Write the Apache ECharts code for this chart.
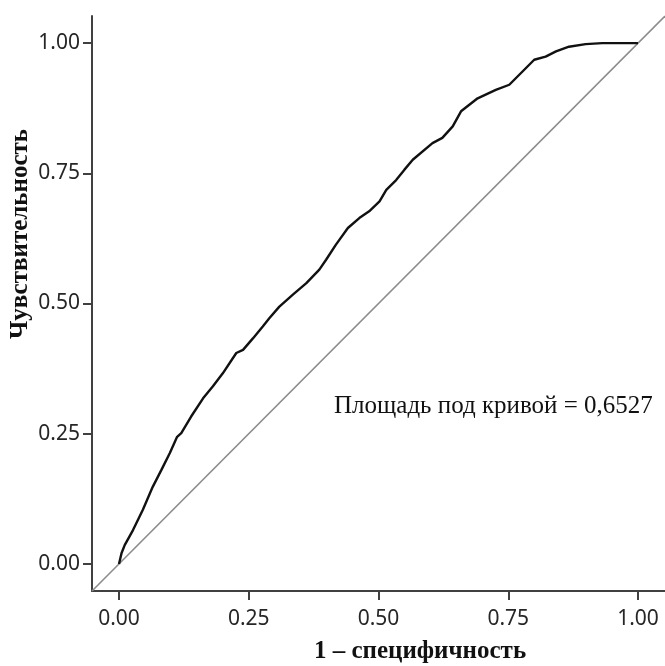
<!DOCTYPE html>
<html>
<head>
<meta charset="utf-8">
<script src="https://cdn.jsdelivr.net/npm/echarts@6/dist/echarts.min.js"></script>
<style>html,body{margin:0;padding:0;background:#fff}#c{width:665px;height:666px}</style>
</head>
<body>
<div id="c"></div>
<script>
// ROC curve: 1 - specificity (x) vs sensitivity (y)
const fpr = [0, 0.001, 0.005, 0.011, 0.027, 0.046, 0.065, 0.082, 0.098, 0.112, 0.120, 0.139, 0.162, 0.181, 0.200, 0.226, 0.239, 0.258, 0.277, 0.290, 0.309, 0.335, 0.361, 0.386, 0.399, 0.418, 0.441, 0.463, 0.482, 0.502, 0.515, 0.534, 0.550, 0.566, 0.604, 0.623, 0.643, 0.659, 0.691, 0.726, 0.752, 0.777, 0.800, 0.822, 0.842, 0.867, 0.899, 0.931, 1.0];
const tpr = [0, 0.001, 0.021, 0.036, 0.065, 0.104, 0.148, 0.181, 0.213, 0.244, 0.251, 0.283, 0.318, 0.341, 0.366, 0.405, 0.411, 0.433, 0.456, 0.472, 0.494, 0.517, 0.539, 0.565, 0.584, 0.613, 0.645, 0.664, 0.677, 0.696, 0.718, 0.737, 0.757, 0.776, 0.808, 0.818, 0.840, 0.869, 0.894, 0.910, 0.920, 0.945, 0.968, 0.974, 0.984, 0.993, 0.998, 1.0, 1.0];
const refLine = [-0.052, 1.052];
const tickValues = [0, 0.25, 0.5, 0.75, 1.0];
const axisMin = -0.052, axisMax = 1.052;
const xTitle = '1 – специфичность';
const yTitle = 'Чувствительность';
const aucText = 'Площадь под кривой = 0,6527';

const chart = echarts.init(document.getElementById('c'), null, {renderer: 'canvas'});
const axisCommon = {
  type: 'value', min: axisMin, max: axisMax,
  axisLine: {show: true, onZero: false, lineStyle: {color: '#404040', width: 2}},
  axisTick: {show: true, customValues: tickValues, length: 9, lineStyle: {color: '#404040', width: 2}},
  axisLabel: {customValues: tickValues, formatter: v => v.toFixed(2), color: '#262626',
              fontFamily: 'Noto Sans', fontSize: 21},
  splitLine: {show: false}
};
chart.setOption({
  animation: false,
  backgroundColor: '#fff',
  grid: {left: 92, top: 16, width: 574, height: 575, containLabel: false},
  xAxis: Object.assign({}, axisCommon, {axisLabel: Object.assign({}, axisCommon.axisLabel, {margin: 18})}),
  yAxis: Object.assign({}, axisCommon, {axisLabel: Object.assign({}, axisCommon.axisLabel, {margin: 12})}),
  series: [
    {type: 'line', data: refLine.map(v => [v, v]), symbol: 'none',
     lineStyle: {color: '#8c8c8c', width: 1.6}, silent: true},
    {type: 'line', data: fpr.map((x, i) => [x, tpr[i]]), symbol: 'none',
     lineStyle: {color: '#111', width: 2.4}, silent: true}
  ],
  graphic: [
    {type: 'text', x: 420, y: 652, style: {text: xTitle, font: 'bold 25px "Liberation Serif"', fill: '#111', align: 'center', verticalAlign: 'middle'}},
    {type: 'text', x: 21, y: 234, rotation: Math.PI / 2, style: {text: yTitle, font: 'bold 25px "Liberation Serif"', fill: '#111', align: 'center', verticalAlign: 'middle'}},
    {type: 'text', x: 334, y: 406, style: {text: aucText, font: '25px "Liberation Serif"', fill: '#111', align: 'left', verticalAlign: 'middle'}}
  ]
});
</script>
</body>
</html>
